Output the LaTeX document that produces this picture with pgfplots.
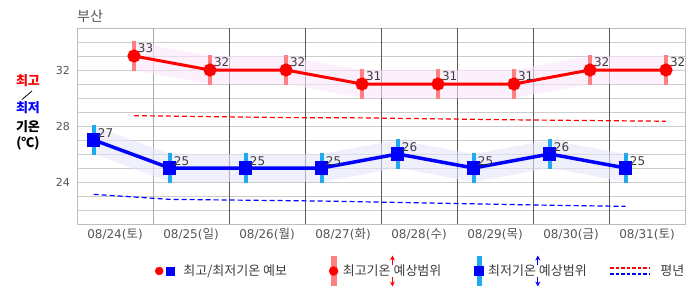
\documentclass[border=0pt]{standalone}
\usepackage{fontspec}
\setmainfont{DejaVu Sans}
\newfontfamily\kr{Noto Sans CJK KR}
\usepackage{pgfplots}
\pgfplotsset{compat=1.18}
\usetikzlibrary{arrows.meta}
\definecolor{rline}{RGB}{255,0,0}
\definecolor{rbar}{RGB}{255,128,128}
\definecolor{rband}{RGB}{250,230,250}
\definecolor{bline}{RGB}{0,0,255}
\definecolor{bbar}{RGB}{30,170,240}
\definecolor{bband}{RGB}{230,230,250}
\definecolor{gridc}{RGB}{204,204,204}
\definecolor{axisc}{RGB}{190,190,190}
\definecolor{vdark}{RGB}{90,90,90}
\definecolor{vlight}{RGB}{170,170,170}
\definecolor{txt}{RGB}{85,85,85}
\definecolor{lbl}{RGB}{60,60,60}
\newcommand\dl[2]{#1(\mbox{\kr\fontsize{12.5}{12}\selectfont #2})}
\begin{document}
\begin{tikzpicture}
\useasboundingbox (0,0) rectangle (686pt,295pt);
\begin{axis}[
  at={(77pt,71pt)}, anchor=south west, scale only axis,
  width=608pt, height=196pt,
  xmin=-0.5, xmax=7.5, ymin=21, ymax=35,
  clip=false,
  axis line style={draw=axisc, line width=1pt},
  xtick={0,...,7},
  xticklabels={\dl{08/24}{토},\dl{08/25}{일},\dl{08/26}{월},\dl{08/27}{화},\dl{08/28}{수},\dl{08/29}{목},\dl{08/30}{금},\dl{08/31}{토}},
  ytick={24,28,32}, yticklabels={24,28,32},
  minor ytick={21,...,35},
  ymajorgrids, yminorgrids,
  major grid style={gridc, line width=1pt},
  minor grid style={gridc, line width=1pt},
  major tick length=0pt, minor tick length=0pt,
  tick style={draw=none},
  xticklabel style={anchor=base, inner sep=0pt, yshift=-14pt, text=txt, font=\fontsize{12}{12}\selectfont},
  yticklabel style={anchor=east, inner sep=0pt, xshift=-7pt, text=txt, font=\fontsize{11}{12}\selectfont},
  /pgf/number format/assume math mode=true,
  every node near coord/.append style={anchor=west, inner sep=0pt, xshift=2.5pt, text=lbl, font=\fontsize{12}{12}\selectfont},
  legend columns=-1,
  legend style={at={(rel axis cs:0.1283,-0.2398)}, anchor=west, draw=none, fill=none,
    inner sep=0pt, outer sep=0pt, column sep=0pt,
    nodes={inner sep=0pt, outer sep=0pt, font=\kr\fontsize{13}{13}\selectfont, text=lbl},
    /tikz/every even column/.style={column sep=0pt},
    /tikz/every odd column/.style={column sep=0pt}},
]
% column separators
\draw[vlight, line width=1pt] (axis cs:0.5,21) -- (axis cs:0.5,35);
\foreach \xx in {1.5,2.5,3.5,4.5,5.5,6.5} {
  \edef\tmp{\noexpand\draw[vdark, line width=1pt] (axis cs:\xx,21) -- (axis cs:\xx,35);}\tmp
}
% forecast range bands
\addplot[draw=none, fill=rband, fill opacity=0.6, forget plot] coordinates {
 (0.25,34) (1.25,33) (2.25,33) (3.25,32) (4.25,32) (5.25,32) (6.25,33) (7.25,33)
 (7.25,31) (6.25,31) (5.25,30) (4.25,30) (3.25,30) (2.25,31) (1.25,31) (0.25,32)} -- cycle;
\addplot[draw=none, fill=bband, fill opacity=0.6, forget plot] coordinates {
 (-0.28,28) (0.72,26) (1.72,26) (2.72,26) (3.72,27) (4.72,26) (5.72,27) (6.72,26)
 (6.72,24) (5.72,25) (4.72,24) (3.72,25) (2.72,24) (1.72,24) (0.72,24) (-0.28,26)} -- cycle;
% normals
\addplot[rline, line width=1.2pt, dash pattern=on 5pt off 3pt, forget plot] coordinates {
 (0.25,28.74) (1.25,28.67) (2.25,28.60) (3.25,28.58) (4.25,28.51) (5.25,28.44) (6.25,28.39) (7.25,28.34)};
\addplot[bline, line width=1.2pt, dash pattern=on 5pt off 3pt, forget plot] coordinates {
 (-0.28,23.12) (0.72,22.76) (1.72,22.70) (2.72,22.64) (3.72,22.54) (4.72,22.44) (5.72,22.34) (6.72,22.26)};
% range bars
\addplot[draw=none, mark=none, forget plot,
  error bars/.cd, y dir=both, y explicit, error mark=none,
  error bar style={rbar, line width=4pt}] coordinates {
 (0.25,33) +- (0,1.05) (1.25,32) +- (0,1.05) (2.25,32) +- (0,1.05) (3.25,31) +- (0,1.05)
 (4.25,31) +- (0,1.05) (5.25,31) +- (0,1.05) (6.25,32) +- (0,1.05) (7.25,32) +- (0,1.05)};
\addplot[draw=none, mark=none, forget plot,
  error bars/.cd, y dir=both, y explicit, error mark=none,
  error bar style={bbar, line width=4pt}] coordinates {
 (-0.28,27) +- (0,1.05) (0.72,25) +- (0,1.05) (1.72,25) +- (0,1.05) (2.72,25) +- (0,1.05)
 (3.72,26) +- (0,1.05) (4.72,25) +- (0,1.05) (5.72,26) +- (0,1.05) (6.72,25) +- (0,1.05)};
% forecast lines
\addplot[rline, line width=3pt, mark=*, mark size=5pt, mark options={fill=rline, draw=none},
  nodes near coords, every node near coord/.append style={yshift=8pt}, forget plot] coordinates {
 (0.25,33) (1.25,32) (2.25,32) (3.25,31) (4.25,31) (5.25,31) (6.25,32) (7.25,32)};
\addplot[bline, line width=3.5pt, mark=square*, mark size=4.8pt, mark options={fill=bline, draw=none},
  nodes near coords, every node near coord/.append style={yshift=7pt}, forget plot] coordinates {
 (-0.28,27) (0.72,25) (1.72,25) (2.72,25) (3.72,26) (4.72,25) (5.72,26) (6.72,25)};
% legend
\addlegendimage{legend image code/.code={
  \fill[rline] (4pt,0pt) circle (4pt);
  \fill[bline] (10.5pt,-4pt) rectangle (18.5pt,4pt);
  \path (0pt,0pt) (28pt,0pt);}}
\addlegendentry{\makebox[140pt][l]{최고/최저기온 예보}}
\addlegendimage{legend image code/.code={
  \fill[rbar] (-2.3pt,-14.5pt) rectangle (2.3pt,14.5pt);
  \fill[rline] (0pt,0pt) circle (4.5pt);
  \path (-10pt,0pt) (9pt,0pt);
  \draw[overlay, rline, line width=1.2pt, -{Stealth[length=5pt,width=5pt]}] (58.8pt,6pt) -- (58.8pt,15.5pt);
  \draw[overlay, rline, line width=1.2pt, -{Stealth[length=5pt,width=5pt]}] (58.8pt,-6pt) -- (58.8pt,-15.5pt);}}
\addlegendentry{\makebox[126pt][l]{최고기온 예상범위}}
\addlegendimage{legend image code/.code={
  \fill[bbar] (-2.3pt,-14.5pt) rectangle (2.3pt,14.5pt);
  \fill[bline] (-4.5pt,-4.5pt) rectangle (4.5pt,4.5pt);
  \path (-10pt,0pt) (9pt,0pt);
  \draw[overlay, bline, line width=1.2pt, -{Stealth[length=5pt,width=5pt]}] (58.8pt,6pt) -- (58.8pt,15.5pt);
  \draw[overlay, bline, line width=1.2pt, -{Stealth[length=5pt,width=5pt]}] (58.8pt,-6pt) -- (58.8pt,-15.5pt);}}
\addlegendentry{\makebox[121pt][l]{최저기온 예상범위}}
\addlegendimage{legend image code/.code={
  \draw[rline, line width=2pt, dash pattern=on 3.5pt off 2pt] (0pt,3pt) -- (39pt,3pt);
  \draw[bline, line width=2pt, dash pattern=on 3.5pt off 2pt] (0pt,-3pt) -- (39pt,-3pt);
  \path (0pt,0pt) (50pt,0pt);}}
\addlegendentry{평년}
\end{axis}
% title and side label
\node[anchor=west, inner sep=0pt, text=txt, font=\kr\fontsize{14}{14}\selectfont] at (77pt,279pt) {부산};
\node[inner sep=0pt, text=rline, font=\kr\bfseries\fontsize{13}{13}\selectfont] at (28pt,214pt) {최고};
\draw[black, line width=0.8pt] (22pt,195.5pt) -- (32pt,204pt);
\node[inner sep=0pt, text=bline, font=\kr\bfseries\fontsize{13}{13}\selectfont] at (28pt,187pt) {최저};
\node[inner sep=0pt, text=black, font=\kr\bfseries\fontsize{13}{13}\selectfont] at (28pt,168pt) {기온};
\node[inner sep=0pt, text=black, font=\kr\bfseries\fontsize{13}{13}\selectfont] at (28pt,152pt) {(℃)};
\end{tikzpicture}
\end{document}
